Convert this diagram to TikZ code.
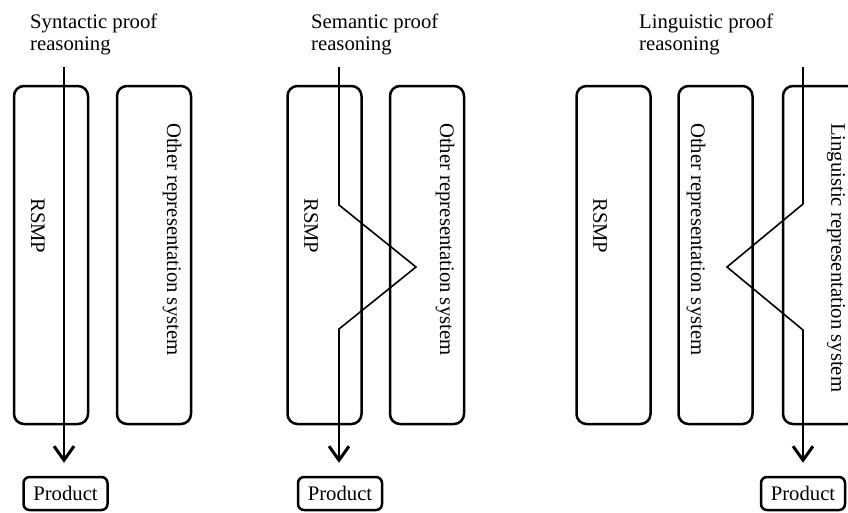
\documentclass[tikz,border=0pt]{standalone}
\usepackage{fontspec}
\setmainfont{Liberation Serif}
\usetikzlibrary{arrows.meta}
\tikzset{
  panelbox/.style={draw, line width=2.5pt, rounded corners=10pt, minimum width=74pt, minimum height=338pt, inner sep=0pt},
  prodbox/.style={draw, line width=2.5pt, rounded corners=6pt, minimum width=84pt, minimum height=33pt, inner sep=0pt},
  boxtext/.style={rotate=-90, anchor=west, inner sep=0pt},
  heading/.style={anchor=north west, align=left, inner sep=0pt},
  flow/.style={line width=1.6pt, -{Straight Barb[length=14pt, width=20pt, line width=3pt]}, shorten >=13pt},
}
\begin{document}
\begin{tikzpicture}[x=1pt, y=-1pt, font=\fontsize{20.7}{22}\selectfont]
\clip (0,0) rectangle (848,512);
\useasboundingbox (0,0) rectangle (848,512);
% ---------- panel 1 ----------
\node[heading] (h1) at (30,14) {Syntactic proof\\reasoning};
\node[panelbox] (a1) at (51,255) {};
\node[panelbox] (a2) at (154,255) {};
\node[boxtext] (ta1) at (38,198) {RSMP};
\node[boxtext] (ta2) at (172,123) {Other representation system};
\node[prodbox] (pa) at (65.5,493.5) {Product};
\coordinate (sa) at (64,67);
\draw[flow] (sa) -- (sa |- pa.north);
% ---------- panel 2 ----------
\node[heading] (h2) at (311,14) {Semantic proof\\reasoning};
\node[panelbox] (b1) at (324.5,255) {};
\node[panelbox] (b2) at (427,255) {};
\node[boxtext] (tb1) at (311,198) {RSMP};
\node[boxtext] (tb2) at (445,123) {Other representation system};
\node[prodbox] (pb) at (340,493.5) {Product};
\coordinate (sb) at (339,67);
\coordinate (b3) at (339,205);
\coordinate (b4) at (416,267);
\coordinate (b5) at (339,329);
\draw[flow] (sb) -- (b3) -- (b4) -- (b5) -- (sb |- pb.north);
% ---------- panel 3 ----------
\node[heading] (h3) at (639,14) {Linguistic proof\\reasoning};
\node[panelbox] (c1) at (613.5,255) {};
\node[panelbox] (c2) at (715.5,255) {};
\node[panelbox] (c3) at (820,255) {};
\node[boxtext] (tc1) at (600,198) {RSMP};
\node[boxtext] (tc2) at (696,123) {Other representation system};
\node[boxtext] (tc3) at (836,123) {Linguistic representation system};
\node[prodbox] (pc) at (803,493.5) {Product};
\coordinate (sc) at (803,67);
\coordinate (c4) at (803,204);
\coordinate (c5) at (727,267);
\coordinate (c6) at (803,330);
\draw[flow] (sc) -- (c4) -- (c5) -- (c6) -- (sc |- pc.north);
\end{tikzpicture}
\end{document}
